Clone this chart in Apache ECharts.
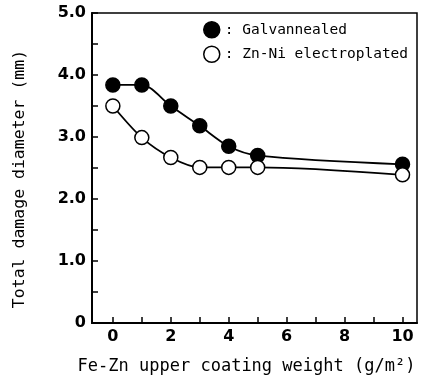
<!DOCTYPE html>
<html><head><meta charset="utf-8">
<script src="https://cdn.jsdelivr.net/npm/echarts@6/dist/echarts.min.js"></script>
<style>html,body{margin:0;padding:0;background:#fff}#c{width:427px;height:381px}</style>
</head><body><div id="c"></div>
<script>
const weights = [0, 1, 2, 3, 4, 5, 10];
const galvannealed = [3.84, 3.84, 3.50, 3.18, 2.85, 2.70, 2.56];
const znNi = [3.50, 2.99, 2.67, 2.51, 2.51, 2.51, 2.39];
const xTicks = [0, 1, 2, 3, 4, 5, 6, 7, 8, 9, 10];
const xLabels = [0, 2, 4, 6, 8, 10];
const yLabels = {0: '0', 1: '1.0', 2: '2.0', 3: '3.0', 4: '4.0', 5: '5.0'};

const chart = echarts.init(document.getElementById('c'));
const mono = 'DejaVu Sans Mono';
chart.setOption({
  animation: false,
  backgroundColor: '#fff',
  grid: {left: 92, right: 10, top: 13, bottom: 58, outerBoundsMode: 'none', containLabel: false,
         show: true, borderColor: '#000', borderWidth: 1.5, backgroundColor: 'transparent'},
  legend: {
    orient: 'vertical', left: 198, top: 16, itemGap: 7, itemWidth: 16, itemHeight: 16,
    textStyle: {fontFamily: mono, fontSize: 14.5, color: '#000'},
    formatter: n => ': ' + n,
    data: [
      {name: 'Galvannealed', icon: 'circle', itemStyle: {color: '#000', borderColor: '#000', borderWidth: 1.5}},
      {name: 'Zn-Ni electroplated', icon: 'circle', itemStyle: {color: '#fff', borderColor: '#000', borderWidth: 1.5}}
    ]
  },
  xAxis: {
    type: 'value', min: -0.72, max: 10.5,
    name: 'Fe-Zn upper coating weight (g/m²)', nameLocation: 'middle', nameGap: 35,
    nameTextStyle: {fontFamily: mono, fontSize: 17, color: '#000', padding: [0, 16, 0, 0]},
    axisLine: {show: true, onZero: false, lineStyle: {color: '#000', width: 2}},
    axisTick: {show: true, inside: true, length: 6, lineStyle: {color: '#000', width: 1.5}, customValues: xTicks},
    axisLabel: {customValues: xLabels, color: '#000', fontFamily: 'DejaVu Sans', fontWeight: 'bold', fontSize: 16, margin: 6},
    splitLine: {show: false}
  },
  yAxis: {
    type: 'value', min: 0, max: 5, interval: 0.5,
    name: 'Total damage diameter (mm)', nameLocation: 'middle', nameGap: 64, nameRotate: 90,
    nameTextStyle: {fontFamily: mono, fontSize: 16.5, color: '#000', padding: [0, 22, 0, 0]},
    axisLine: {show: true, onZero: false, lineStyle: {color: '#000', width: 2}},
    axisTick: {show: true, inside: true, length: 6, lineStyle: {color: '#000', width: 1.5}},
    axisLabel: {color: '#000', fontFamily: 'DejaVu Sans', fontWeight: 'bold', fontSize: 16, margin: 6,
      formatter: v => (yLabels[v] !== undefined ? yLabels[v] : '')},
    splitLine: {show: false}
  },
  series: [
    {name: 'Galvannealed', type: 'line', smooth: 0.3, data: weights.map((w, i) => [w, galvannealed[i]]),
     symbol: 'circle', symbolSize: 14, lineStyle: {color: '#000', width: 1.8},
     itemStyle: {color: '#000', borderColor: '#000', borderWidth: 1.5}, z: 3},
    {name: 'Zn-Ni electroplated', type: 'line', smooth: 0.3, data: weights.map((w, i) => [w, znNi[i]]),
     symbol: 'circle', symbolSize: 14, lineStyle: {color: '#000', width: 1.8},
     itemStyle: {color: '#fff', borderColor: '#000', borderWidth: 1.5}, z: 4}
  ]
});
</script></body></html>
